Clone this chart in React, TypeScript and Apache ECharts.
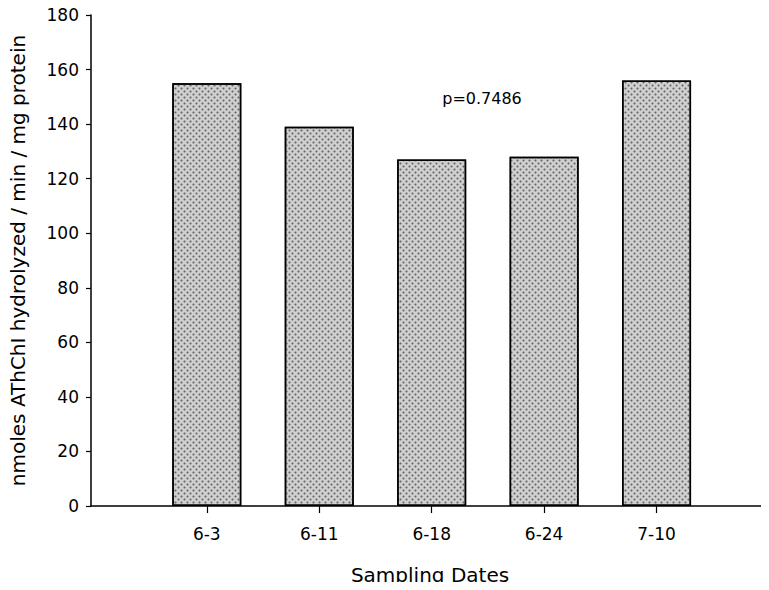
import React, { useEffect, useRef } from "react";
import * as echarts from "echarts";

const categories = ["6-3", "6-11", "6-18", "6-24", "7-10"];
const values = [155, 139, 127, 128, 156];
const yTicks = { min: 0, max: 180, interval: 20 };
const yAxisTitle = "nmoles AThChI hydrolyzed / min / mg protein";
const xAxisTitle = "Sampling Dates";
const annotation = "p=0.7486";

export default function App() {
  const ref = useRef<HTMLDivElement>(null);
  useEffect(() => {
    if (!ref.current) return;
    const chart = echarts.init(ref.current, null, { renderer: "svg" });
    const font = "DejaVu Sans";
    const positions = categories.map((_, i) => i + 1);
    chart.setOption({
      animation: false,
      backgroundColor: "#fff",
      textStyle: { fontFamily: font },
      grid: { left: 90, top: 15, width: 686, height: 492 },
      xAxis: {
        type: "value",
        min: -0.03,
        max: categories.length + 1,
        splitLine: { show: false },
        axisLine: { show: true, onZero: false, lineStyle: { color: "#000", width: 1.5 } },
        axisTick: { show: true, customValues: positions, length: 7, lineStyle: { color: "#000", width: 1.2 } },
        axisLabel: {
          customValues: positions,
          margin: 19,
          fontSize: 17,
          color: "#000",
          fontFamily: font,
          formatter: (v: number) => categories[Math.round(v) - 1] ?? "",
        },
        name: xAxisTitle,
        nameLocation: "middle",
        nameGap: 59,
        nameTextStyle: { fontSize: 20, color: "#000", fontFamily: font },
      },
      yAxis: {
        type: "value",
        min: yTicks.min,
        max: yTicks.max,
        interval: yTicks.interval,
        splitLine: { show: false },
        axisLine: { show: true, onZero: false, lineStyle: { color: "#000", width: 1.5 } },
        axisTick: { show: true, inside: false, length: 5, lineStyle: { color: "#000", width: 1.2 } },
        axisLabel: { margin: 12, fontSize: 17, color: "#000", fontFamily: font },
        name: yAxisTitle,
        nameLocation: "middle",
        nameGap: 63,
        nameRotate: 90,
        nameTextStyle: { fontSize: 20, color: "#000", fontFamily: font },
      },
      series: [
        {
          type: "bar",
          barWidth: 69,
          data: values.map((v, i) => [positions[i], v]),
          itemStyle: {
            color: "#d0d0d0",
            borderColor: "#000",
            borderWidth: 1.5,
            decal: {
              symbol: "circle",
              symbolSize: 0.7,
              color: "#666666",
              backgroundColor: "#ffffff",
              dashArrayX: [[2.5, 2.5], [0, 2.5, 2.5, 0]],
              dashArrayY: [2.5, 0],
            },
          },
        },
      ],
      graphic: [
        {
          type: "text",
          x: 482,
          y: 98,
          style: {
            text: annotation,
            fontSize: 16,
            fontFamily: font,
            fill: "#000",
            textAlign: "center",
            textVerticalAlign: "middle",
          },
        },
      ],
    });
    return () => chart.dispose();
  }, []);
  return <div ref={ref} style={{ width: 769, height: 590, margin: -8 }} />;
}
